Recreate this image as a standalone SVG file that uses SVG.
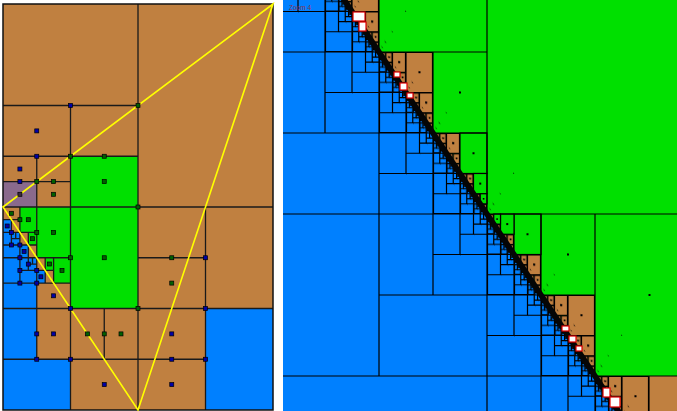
<svg xmlns="http://www.w3.org/2000/svg" width="677" height="411" viewBox="0 0 677 411">
<style>
.br{fill:#c08040}
.gr{fill:#00e000}
.bl{fill:#0080ff}
.ln{fill:none;stroke:#1a1a1a;stroke-width:1.3}
.rl{fill:none;stroke:#000;stroke-width:1.2}
.bd{fill:#0000a8;stroke:#000;stroke-width:.7}
.gd{fill:#006000;stroke:#000;stroke-width:.7}
.yl{fill:none;stroke:#ffff00;stroke-width:1.6}
.dt{fill:#000}
.wc{fill:#fff;stroke:#e00000;stroke-width:1.2}
.lb{font-family:"Liberation Sans",Arial,sans-serif;font-size:6.5px;fill:#8a3050}
</style>
<defs>
<clipPath id="rc"><rect x="283" y="0" width="394" height="411"/></clipPath>
<pattern id="g5" x="487" y="214" width="54" height="81" patternUnits="userSpaceOnUse">
<rect x="27" y="0" width="27" height="40.5" class="br"/>
<path class="rl" d="M27,0V40.5H54M27,0.5H54M53.5,0V40.5"/>
<rect x="39.5" y="19.25" width="2" height="2" class="dt"/>
</pattern>
<pattern id="b5" x="487" y="214" width="54" height="81" patternUnits="userSpaceOnUse">
<path class="rl" d="M0.5,40.5V81M0,40.5H27M27,40.5V81M0,80.5H27M0,60.75H27M13.5,40.5V60.75M13.5,50.63H27M20.25,40.5V50.63M20.25,45.56H27M23.6,40.5V45.56M23.6,43.03H27M25.3,40.5V43.03"/>
</pattern>
<pattern id="g4" x="487" y="214" width="27" height="40.5" patternUnits="userSpaceOnUse">
<rect x="13.5" y="0" width="13.5" height="20.25" class="br"/>
<path class="rl" d="M13.5,0V20.25H27M13.5,0.5H27M26.5,0V20.25"/>
<rect x="19.25" y="9.1" width="2" height="2" class="dt"/>
</pattern>
<pattern id="b4" x="487" y="214" width="27" height="40.5" patternUnits="userSpaceOnUse">
<path class="rl" d="M0.5,20.25V40.5M0,20.25H13.5M13.5,20.25V40.5M0,40H13.5M0,30.38H13.5M6.75,20.25V30.38M6.75,25.31H13.5M10.13,20.25V25.31M10.13,22.78H13.5M11.8,20.25V22.78"/>
</pattern>
<pattern id="g3" x="487" y="214" width="13.5" height="20.25" patternUnits="userSpaceOnUse">
<rect x="6.75" y="0" width="6.75" height="10.13" class="br"/>
<path class="rl" d="M6.75,0V10.13H13.5M6.75,0.5H13.5M13,0V10.13"/>
<rect x="9.4" y="4.3" width="1.6" height="1.6" class="dt"/>
</pattern>
<pattern id="b3" x="487" y="214" width="13.5" height="20.25" patternUnits="userSpaceOnUse">
<path class="rl" d="M0.5,10.13V20.25M0,10.13H6.75M6.75,10.13V20.25M0,19.8H6.75M0,15.19H6.75M3.38,10.13V15.19M3.38,12.66H6.75M5.06,10.13V12.66"/>
</pattern>
<pattern id="g2" x="487" y="214" width="6.75" height="10.125" patternUnits="userSpaceOnUse">
<rect x="3.375" y="0" width="3.375" height="5.06" class="br"/>
<path class="rl" d="M3.375,0V5.06H6.75M3.375,0.5H6.75M6.3,0V5.06"/>
</pattern>
<pattern id="b2" x="487" y="214" width="6.75" height="10.125" patternUnits="userSpaceOnUse">
<path class="rl" d="M0.5,5.06V10.125M0,5.06H3.375M3.375,5.06V10.125M0,7.6H3.375M1.69,5.06V7.6"/>
</pattern>
</defs>

<g id="left-panel">
<rect x="3" y="4" width="270" height="406" class="br"/>
<rect x="70.5" y="156.25" width="67.5" height="152.25" class="gr"/>
<rect x="36.75" y="207" width="33.75" height="50.75" class="gr"/>
<rect x="19.9" y="207" width="16.85" height="25.4" class="gr"/>
<rect x="28.3" y="232.4" width="8.45" height="12.6" class="gr"/>
<rect x="53.6" y="257.75" width="16.9" height="25.35" class="gr"/>
<rect x="45.2" y="257.75" width="8.4" height="12.65" class="gr"/>
<rect x="3" y="181.6" width="33.75" height="25.4" fill="#8a6a8c"/>
<rect x="205.5" y="308.5" width="67.5" height="101.5" class="bl"/>
<rect x="3" y="359.25" width="67.5" height="50.75" class="bl"/>
<rect x="3" y="257.75" width="33.75" height="101.5" class="bl"/>
<rect x="3" y="232.4" width="16.9" height="25.35" class="bl"/>
<rect x="3" y="219.7" width="8.4" height="12.7" class="bl"/>
<rect x="19.9" y="245" width="8.4" height="12.75" class="bl"/>
<rect x="36.75" y="270.4" width="8.45" height="12.7" class="bl"/>
<path class="ln" d="M3,105.5H138M138,4V410M3,207H273M70.5,105.5V410M3,156.25H138M36.75,156.25V359.25M3,181.6H70.5M205.5,207V410M138,257.75H205.5M3,308.5H273M3,359.25H205.5M104.25,308.5V359.25M3,283.1H70.5M3,257.75H70.5M3,232.4H36.75M19.9,207V283.1M3,219.7H19.9M11.4,219.7V245M3,245H36.75M15.7,232.4V238.7M11.4,238.7H19.9M28.3,232.4V270.4M19.9,270.4H53.6M28.3,264.1H36.75M32.5,257.75V264.1M53.6,257.75V283.1M45.2,257.75V283.1"/>
<rect x="3" y="4" width="270" height="406" fill="none" stroke="#111" stroke-width="1.5"/>
<path class="yl" d="M3,207L273,4L138,410Z"/>
<g id="left-dots">
<rect x="68.5" y="103.5" width="4" height="4" class="bd"/>
<rect x="136" y="103.5" width="4" height="4" class="gd"/>
<rect x="34.75" y="128.9" width="4" height="4" class="bd"/>
<rect x="34.75" y="154.25" width="4" height="4" class="bd"/>
<rect x="68.5" y="154.25" width="4" height="4" class="gd"/>
<rect x="102.25" y="154.25" width="4" height="4" class="gd"/>
<rect x="17.9" y="167" width="4" height="4" class="bd"/>
<rect x="17.9" y="179.6" width="4" height="4" class="bd"/>
<rect x="34.75" y="179.6" width="4" height="4" class="gd"/>
<rect x="51.6" y="179.6" width="4" height="4" class="gd"/>
<rect x="102.25" y="179.6" width="4" height="4" class="gd"/>
<rect x="17.9" y="192.3" width="4" height="4" fill="#3a2a3a" stroke="#000" stroke-width=".7"/>
<rect x="51.6" y="192.3" width="4" height="4" class="gd"/>
<rect x="136" y="205" width="4" height="4" class="gd"/>
<rect x="9.4" y="211.3" width="4" height="4" class="gd"/>
<rect x="17.9" y="217.7" width="4" height="4" class="gd"/>
<rect x="26.3" y="217.7" width="4" height="4" class="gd"/>
<rect x="34.75" y="230.4" width="4" height="4" class="gd"/>
<rect x="51.6" y="230.4" width="4" height="4" class="gd"/>
<rect x="30.5" y="236.7" width="4" height="4" class="gd"/>
<rect x="47.4" y="262" width="4" height="4" class="gd"/>
<rect x="60" y="268.4" width="4" height="4" class="gd"/>
<rect x="68.5" y="255.75" width="4" height="4" class="gd"/>
<rect x="102.25" y="255.75" width="4" height="4" class="gd"/>
<rect x="169.75" y="255.75" width="4" height="4" class="gd"/>
<rect x="203.5" y="255.75" width="4" height="4" class="bd"/>
<rect x="169.75" y="281.1" width="4" height="4" class="gd"/>
<rect x="136" y="306.5" width="4" height="4" class="gd"/>
<rect x="203.5" y="306.5" width="4" height="4" class="bd"/>
<rect x="169.75" y="331.9" width="4" height="4" class="bd"/>
<rect x="169.75" y="357.25" width="4" height="4" class="bd"/>
<rect x="203.5" y="357.25" width="4" height="4" class="bd"/>
<rect x="169.75" y="382.6" width="4" height="4" class="bd"/>
<rect x="102.25" y="382.6" width="4" height="4" class="bd"/>
<rect x="85.4" y="331.9" width="4" height="4" class="gd"/>
<rect x="102.25" y="331.9" width="4" height="4" class="gd"/>
<rect x="119" y="331.9" width="4" height="4" class="gd"/>
<rect x="34.75" y="331.9" width="4" height="4" class="bd"/>
<rect x="51.6" y="331.9" width="4" height="4" class="bd"/>
<rect x="34.75" y="357.25" width="4" height="4" class="bd"/>
<rect x="68.5" y="357.25" width="4" height="4" class="bd"/>
<rect x="51.6" y="293.8" width="4" height="4" class="bd"/>
<rect x="34.75" y="281.1" width="4" height="4" class="bd"/>
<rect x="17.9" y="281.1" width="4" height="4" class="bd"/>
<rect x="68.5" y="306.5" width="4" height="4" class="bd"/>
<rect x="5.2" y="224" width="4" height="4" class="bd"/>
<rect x="9.4" y="230.4" width="4" height="4" class="bd"/>
<rect x="9.4" y="243" width="4" height="4" class="bd"/>
<rect x="17.9" y="243" width="4" height="4" class="bd"/>
<rect x="22.1" y="249.4" width="4" height="4" class="bd"/>
<rect x="17.9" y="255.75" width="4" height="4" class="bd"/>
<rect x="26.3" y="262.1" width="4" height="4" class="bd"/>
<rect x="34.75" y="268.4" width="4" height="4" class="bd"/>
<rect x="17.9" y="268.4" width="4" height="4" class="bd"/>
<rect x="38.9" y="274.8" width="4" height="4" class="bd"/>
</g>
</g>

<g id="right-panel" clip-path="url(#rc)">
<rect x="283" y="0" width="394" height="411" class="bl"/>
<polygon points="344.33,0 677,0 677,411 618.33,411" class="gr"/>
<rect x="649" y="376" width="54" height="81" class="br"/>
<polygon points="344.33,0 398.33,0 672.33,411 618.33,411" fill="url(#g5)"/>
<polygon points="290.33,0 344.33,0 618.33,411 564.33,411" fill="url(#b5)"/>
<polygon points="344.33,0 371.33,0 645.33,411 618.33,411" fill="url(#g4)"/>
<polygon points="317.33,0 344.33,0 618.33,411 591.33,411" fill="url(#b4)"/>
<polygon points="344.33,0 357.83,0 631.83,411 618.33,411" fill="url(#g3)"/>
<polygon points="330.83,0 344.33,0 618.33,411 604.83,411" fill="url(#b3)"/>
<polygon points="344.33,0 351.08,0 625.08,411 618.33,411" fill="url(#g2)"/>
<polygon points="337.58,0 344.33,0 618.33,411 611.58,411" fill="url(#b2)"/>
<g class="rl" style="fill:#00e000">
<rect x="460" y="133" width="27" height="40.5"/>
<rect x="514" y="214" width="27" height="40.5"/>
<rect x="473.5" y="173.5" width="13.5" height="20.25"/>
<rect x="500.5" y="214" width="13.5" height="20.25"/>
<rect x="480.25" y="193.75" width="6.75" height="10.13"/>
<rect x="493.75" y="214" width="6.75" height="10.13"/>
</g>
<path class="rl" d="M379,0V376M283,376H677M283,214H677M487,0V411M595,214V411M283,52H487M283,133H433M325,0V133M283,11.5H325M298,0V11.5
M325,92.5H379M352,52V92.5M352,72.25H379M365.5,52V72.25M365.5,62.1H379M372.25,52V62.1M372.25,57.06H379M375.6,52V57.06
M379,295H487M433,214V295M433,254.5H487M460,214V254.5M460,234.25H487M473.5,214V234.25M473.5,224.1H487M480.25,214V224.1M480.25,219.06H487M483.6,214V219.06
M433,133V214M379,173.5H433M406,133V173.5M406,153.25H433M419.5,133V153.25M419.5,143.1H433M426.25,133V143.1M426.25,138.06H433M429.6,133V138.06
M487,295H541M541,295V376M487,335.5H541M514,295V335.5M514,315.25H541M527.5,295V315.25M527.5,305.1H541M534.25,295V305.1M534.25,300.06H541M537.6,295V300.06
M541,376V411M568,376V411M568,396.25H595M581.5,376V396.25M581.5,386.1H595M588.25,376V386.1M588.25,381.06H595M591.6,376V381.06
M433,52V133M433,133H487M541,214V295M541,295H595M649,376V411"/>
<polygon points="340.9,0 347.7,0 621.7,411 614.9,411" fill="#050505"/>
<g id="cut-cells">
<rect x="353" y="12" width="12" height="9" class="wc"/>
<rect x="359" y="22" width="7" height="9" class="wc"/>
<rect x="394" y="72" width="6" height="5" class="wc"/>
<rect x="400" y="83" width="7" height="7" class="wc"/>
<rect x="407" y="93" width="6" height="5" class="wc"/>
<rect x="562" y="326" width="7" height="5" class="wc"/>
<rect x="569" y="336" width="7" height="6" class="wc"/>
<rect x="576" y="346" width="6" height="5" class="wc"/>
<rect x="603" y="388" width="7" height="9" class="wc"/>
<rect x="610" y="397" width="10" height="10" class="wc"/>
</g>
<g id="right-dots" class="dt">
<rect x="459" y="91.5" width="2" height="2"/>
<rect x="567" y="253.5" width="2" height="2"/>
<rect x="648.5" y="294" width="2" height="2"/>
<rect x="472.5" y="152.25" width="2" height="2"/>
<rect x="526.5" y="233.25" width="2" height="2"/>
<rect x="479.25" y="182.6" width="2" height="2"/>
<rect x="506.25" y="223.1" width="2" height="2"/>
<rect x="482.8" y="198" width="1.6" height="1.6"/>
<rect x="496.3" y="218.3" width="1.6" height="1.6"/>
</g>
<text x="289" y="9.5" class="lb">Zoom 4</text>
</g>
</svg>
